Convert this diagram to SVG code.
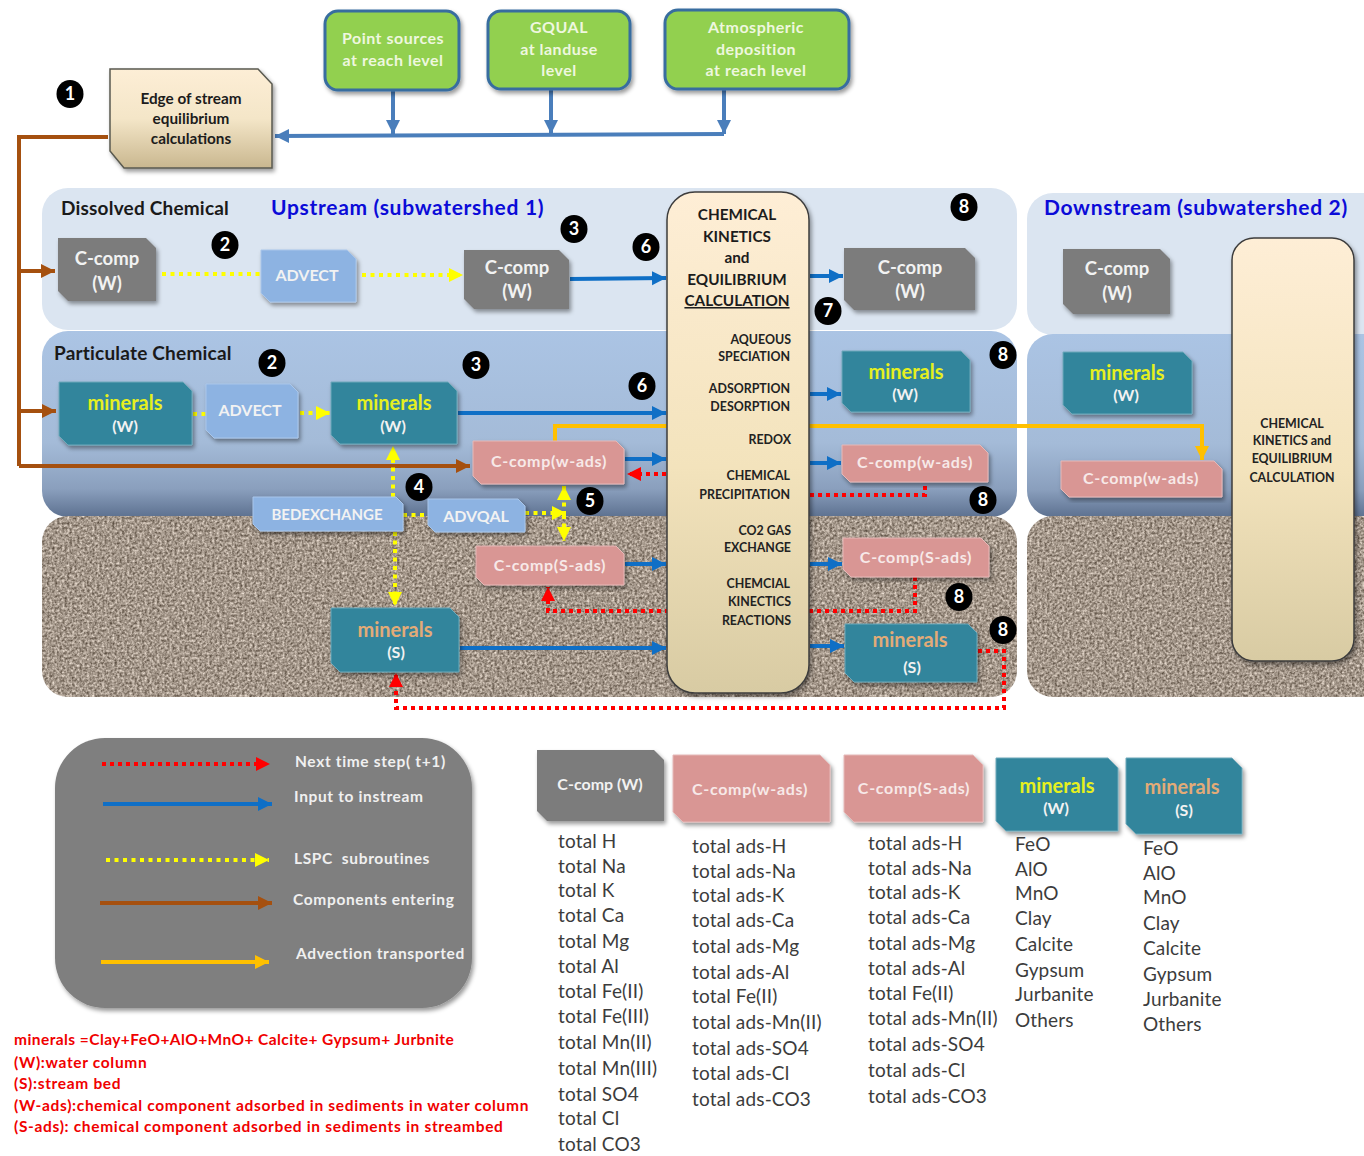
<svg xmlns="http://www.w3.org/2000/svg" width="1364" height="1156" viewBox="0 0 1364 1156">
<style>
text{font-family:Lato,"Open Sans","Liberation Sans",sans-serif}
.c{text-anchor:middle}
.nt{font-size:18.500px;fill:#f2f2f2;font-weight:700}
.ns{font-size:16px;fill:#f2f2f2;font-weight:700}
.pk{font-size:16px;fill:#f7e9e8;font-weight:700;letter-spacing:.7px}
.bx{font-size:15px;fill:#f2f2f2;font-weight:700}
.gt{font-size:16px;fill:#eef7df;font-weight:700;letter-spacing:.5px}
.yl{font-size:20px;fill:#e6f01e;font-weight:700}
.or{font-size:20px;fill:#e3ab77;font-weight:700}
.ct{font-size:15.300px;fill:#1c1c1c;font-weight:700}
.cs{font-size:12.400px;fill:#222;font-weight:700}
.ttl{font-size:21px;fill:#0b0bd8;font-weight:700;letter-spacing:.7px}
.hd{font-size:19px;fill:#1a1a1a;font-weight:700;letter-spacing:.2px}
.lg{font-size:15.500px;fill:#f0f0f0;font-weight:700;letter-spacing:.65px}
.rd{font-size:15.500px;fill:#f00000;font-weight:700;letter-spacing:.67px}
.rd1{letter-spacing:.43px}
.li{font-size:19px;fill:#3c3c3c;letter-spacing:.15px}
.num{font-size:18px;fill:#fff;font-weight:700;text-anchor:middle}
.gray{fill:#7b7b7b}.blue{fill:#8db3e2;stroke:#a9c6ea;stroke-width:1}.teal{fill:#31859c;stroke:#6fa9ba;stroke-width:1}.pink{fill:#d99694;stroke:#e6b9b8;stroke-width:1}
.sh{filter:url(#shadow)}
.ln{fill:none;stroke-width:4}
.b{stroke:#0f6fc6;marker-end:url(#ab)}
.bb{stroke:#4a7ebb;marker-end:url(#abb)}
.br{stroke:#a5500f}
.bra{stroke:#a5500f;marker-end:url(#abr)}
.o{stroke:#ffc000;marker-end:url(#ao)}
.y{stroke:#ffff00;stroke-dasharray:4 4.500;stroke-width:4}
.ya{marker-end:url(#ay)}
.r{stroke:#ff0000;stroke-dasharray:4 4;stroke-width:4}
.ra{marker-end:url(#ar)}
</style>
<defs>
<linearGradient id="gEdge" x1="0" y1="0" x2="0" y2="1"><stop offset="0" stop-color="#fdeed6"/><stop offset=".5" stop-color="#f4e6c8"/><stop offset="1" stop-color="#c9b78f"/></linearGradient>
<linearGradient id="gChem" x1="0" y1="0" x2="0" y2="1"><stop offset="0" stop-color="#feeed6"/><stop offset=".55" stop-color="#f3e3bc"/><stop offset="1" stop-color="#d8cba3"/></linearGradient>
<linearGradient id="gPart" x1="0" y1="0" x2="0" y2="1"><stop offset="0" stop-color="#abc4e4"/><stop offset=".6" stop-color="#a4bbd8"/><stop offset=".85" stop-color="#8a9fbd"/><stop offset="1" stop-color="#5d7190"/></linearGradient>
<filter id="shadow" x="-10%" y="-10%" width="125%" height="125%"><feDropShadow dx="2" dy="3" stdDeviation="2" flood-color="#000" flood-opacity=".4"/></filter>
<filter id="grain" x="0" y="0" width="100%" height="100%" color-interpolation-filters="sRGB">
<feTurbulence type="fractalNoise" baseFrequency=".4" numOctaves="2" seed="4" result="n"/>
<feColorMatrix in="n" type="matrix" values=".8 0 0 0 .24  .8 0 0 0 .19  .8 0 0 0 .14  0 0 0 0 1"/>
<feGaussianBlur stdDeviation=".6"/>
<feComposite in2="SourceGraphic" operator="in"/>
</filter>
<marker id="ab" markerUnits="userSpaceOnUse" markerWidth="16" markerHeight="16" refX="14" refY="7" orient="auto"><path d="M0 0L14 7L0 14Z" fill="#0f6fc6"/></marker>
<marker id="abb" markerUnits="userSpaceOnUse" markerWidth="16" markerHeight="16" refX="14" refY="7" orient="auto"><path d="M0 0L14 7L0 14Z" fill="#4a7ebb"/></marker>
<marker id="abr" markerUnits="userSpaceOnUse" markerWidth="16" markerHeight="16" refX="14" refY="7" orient="auto"><path d="M0 0L14 7L0 14Z" fill="#a5500f"/></marker>
<marker id="ao" markerUnits="userSpaceOnUse" markerWidth="16" markerHeight="16" refX="14" refY="7" orient="auto"><path d="M0 0L14 7L0 14Z" fill="#ffc000"/></marker>
<marker id="ay" markerUnits="userSpaceOnUse" markerWidth="16" markerHeight="16" refX="14" refY="7" orient="auto"><path d="M0 0L14 7L0 14Z" fill="#ffff00"/></marker>
<marker id="ar" markerUnits="userSpaceOnUse" markerWidth="16" markerHeight="16" refX="14" refY="7" orient="auto"><path d="M0 0L14 7L0 14Z" fill="#ff0000"/></marker>
</defs>
<rect width="1364" height="1156" fill="#fff"/>
<g id="panels">
<rect x="42" y="188" width="975" height="142" rx="26" fill="#dbe5f1"/>
<rect x="42" y="331" width="975" height="186" rx="26" fill="url(#gPart)"/>
<rect x="42" y="516" width="975" height="181" rx="26" fill="#a5968a" filter="url(#grain)"/>
<rect x="1027" y="193" width="400" height="142" rx="26" fill="#dbe5f1"/>
<rect x="1027" y="334" width="400" height="183" rx="26" fill="url(#gPart)"/>
<rect x="1027" y="516" width="400" height="181" rx="26" fill="#a5968a" filter="url(#grain)"/>
<text class="hd" x="61" y="215">Dissolved Chemical</text>
<text class="hd" x="54" y="360">Particulate Chemical</text>
<text class="ttl" x="271" y="215">Upstream (subwatershed 1)</text>
<text class="ttl" x="1044" y="215">Downstream (subwatershed 2)</text>
</g>
<g id="connectors">
<path class="ln br" d="M108 137H19V466"/>
<path class="ln bra" d="M19 466H470"/>
<path class="ln bra" d="M19 271H55"/>
<path class="ln bra" d="M19 411H56"/>
<path class="ln bb" d="M724 134L275 136"/>
<path class="ln bb" d="M393 91V134"/>
<path class="ln bb" d="M551 90V134"/>
<path class="ln bb" d="M724 90V134"/>
<path class="ln y" d="M162 274H261"/>
<path class="ln y ya" d="M362 275H463"/>
<path class="ln y" d="M193 414H206"/>
<path class="ln y ya" d="M300 413H330"/>
<path class="ln b" d="M570 279L666 278"/>
<path class="ln b" d="M810 276H843"/>
<path class="ln b" d="M458 413H666"/>
<path class="ln b" d="M810 394H841"/>
<path class="ln b" d="M625 459H666"/>
<path class="ln b" d="M810 463H841"/>
<path class="ln b" d="M625 564H666"/>
<path class="ln b" d="M810 564H842"/>
<path class="ln b" d="M460 648H666"/>
<path class="ln b" d="M810 646H844"/>
<path class="ln o" d="M555 441V426H1202V460"/>
<path class="ln r ra" d="M666 474H627"/>
<path class="ln r" d="M810 495H925V485"/>
<path class="ln r ra" d="M915 577V611H548V587"/>
<path class="ln r ra" d="M978 651H1004V708H396V673"/>
<path class="ln y ya" d="M393 497V446"/>
<path class="ln y ya" d="M395 532V606"/>
<path class="ln y" d="M403 515H428"/>
<path class="ln y ya" d="M525 513H566"/>
<path class="ln y ya" d="M564 515V486"/>
<path class="ln y ya" d="M564 515V541"/>
</g>
<g id="edge-of-stream"><polygon class="sh" points="110,69 258,69 272,84 272,168 124,168 110,151" fill="url(#gEdge)" stroke="#5a5a50" stroke-width="1.5"/><text class="c ct" x="191" y="104">Edge of stream</text><text class="c ct" x="191" y="124">equilibrium</text><text class="c ct" x="191" y="144">calculations</text></g>
<g id="point-sources"><rect class="sh" x="325" y="11" width="134" height="79" rx="13" fill="#92d050" stroke="#376d9f" stroke-width="3"/><text class="c gt" x="393" y="44">Point sources</text><text class="c gt" x="393" y="66">at reach level</text></g>
<g id="gqual"><rect class="sh" x="488" y="11" width="142" height="78" rx="13" fill="#92d050" stroke="#376d9f" stroke-width="3"/><text class="c gt" x="559" y="33">GQUAL</text><text class="c gt" x="559" y="55">at landuse</text><text class="c gt" x="559" y="76">level</text></g>
<g id="atmospheric"><rect class="sh" x="665" y="10" width="184" height="79" rx="13" fill="#92d050" stroke="#376d9f" stroke-width="3"/><text class="c gt" x="756" y="33">Atmospheric</text><text class="c gt" x="756" y="55">deposition</text><text class="c gt" x="756" y="76">at reach level</text></g>
<g id="ccomp-w-1"><polygon class="sh gray" points="58,238 146,238 156,248 156,301 68,301 58,291"/><text class="c nt" x="107" y="265">C-comp</text><text class="c nt" x="107" y="290">(W)</text></g>
<g id="advect-1"><polygon class="sh blue" points="261,250 347,250 356,259 356,302 270,302 261,293"/><text class="c ns" x="307" y="281">ADVECT</text></g>
<g id="ccomp-w-2"><polygon class="sh gray" points="464,250 559,250 569,260 569,309 474,309 464,299"/><text class="c nt" x="517" y="274">C-comp</text><text class="c nt" x="517" y="298">(W)</text></g>
<g id="ccomp-w-3"><polygon class="sh gray" points="844,248 965,248 975,258 975,310 854,310 844,300"/><text class="c nt" x="910" y="274">C-comp</text><text class="c nt" x="910" y="298">(W)</text></g>
<g id="ccomp-w-4"><polygon class="sh gray" points="1063,249 1160,249 1170,259 1170,314 1073,314 1063,304"/><text class="c nt" x="1117" y="275">C-comp</text><text class="c nt" x="1117" y="300">(W)</text></g>
<g id="minerals-w-1"><polygon class="sh teal" points="59,382 183,382 192,391 192,445 68,445 59,436"/><text class="c yl" x="125" y="410">minerals</text><text class="c ns" x="125" y="432">(W)</text></g>
<g id="advect-2"><polygon class="sh blue" points="206,384 290,384 298,392 298,438 214,438 206,430"/><text class="c ns" x="250" y="416">ADVECT</text></g>
<g id="minerals-w-2"><polygon class="sh teal" points="331,382 448,382 457,391 457,444 340,444 331,435"/><text class="c yl" x="394" y="410">minerals</text><text class="c ns" x="393" y="432">(W)</text></g>
<g id="cw-ads-1"><polygon class="sh pink" points="473,441 616,441 624,449 624,484 481,484 473,476"/><text class="c pk" x="549" y="467">C-comp(w-ads)</text></g>
<g id="bedexchange"><polygon class="sh blue" points="253,497 396,497 403,504 403,531 260,531 253,524"/><text class="c bx" x="327" y="520">BEDEXCHANGE</text></g>
<g id="advqal"><polygon class="sh blue" points="428,499 518,499 525,506 525,532 435,532 428,525"/><text class="c ns" x="476" y="522">ADVQAL</text></g>
<g id="cs-ads-1"><polygon class="sh pink" points="476,546 616,546 624,554 624,585 484,585 476,577"/><text class="c pk" x="550" y="571">C-comp(S-ads)</text></g>
<g id="minerals-s-1"><polygon class="sh teal" points="331,608 450,608 459,617 459,672 340,672 331,663"/><text class="c or" x="395" y="637">minerals</text><text class="c ns" x="396" y="658">(S)</text></g>
<g id="minerals-w-3"><polygon class="sh teal" points="842,351 961,351 970,360 970,412 851,412 842,403"/><text class="c yl" x="906" y="379">minerals</text><text class="c ns" x="905" y="400">(W)</text></g>
<g id="cw-ads-2"><polygon class="sh pink" points="842,445 980,445 988,453 988,482 850,482 842,474"/><text class="c pk" x="915" y="468">C-comp(w-ads)</text></g>
<g id="cs-ads-2"><polygon class="sh pink" points="843,538 981,538 989,546 989,577 851,577 843,569"/><text class="c pk" x="916" y="563">C-comp(S-ads)</text></g>
<g id="minerals-s-2"><polygon class="sh teal" points="845,624 968,624 977,633 977,682 854,682 845,673"/><text class="c or" x="910" y="647">minerals</text><text class="c ns" x="912" y="673">(S)</text></g>
<g id="minerals-w-4"><polygon class="sh teal" points="1063,352 1183,352 1192,361 1192,414 1072,414 1063,405"/><text class="c yl" x="1127" y="380">minerals</text><text class="c ns" x="1126" y="401">(W)</text></g>
<g id="cw-ads-3"><polygon class="sh pink" points="1061,461 1214,461 1222,469 1222,497 1069,497 1061,489"/><text class="c pk" x="1141" y="484">C-comp(w-ads)</text></g>
<g id="chem-1"><rect class="sh" x="667" y="192" width="142" height="501" rx="28" fill="url(#gChem)" stroke="#3c3c3c" stroke-width="1.5"/>
<text class="c ct" x="737" y="220">CHEMICAL</text><text class="c ct" x="737" y="242">KINETICS</text><text class="c ct" x="737" y="263">and</text><text class="c ct" x="737" y="285">EQUILIBRIUM</text><text class="c ct" x="737" y="306" text-decoration="underline">CALCULATION</text>
<g text-anchor="end"><text class="cs" x="791" y="344">AQUEOUS</text><text class="cs" x="790" y="361">SPECIATION</text><text class="cs" x="790" y="393">ADSORPTION</text><text class="cs" x="790" y="411">DESORPTION</text><text class="cs" x="791" y="444">REDOX</text><text class="cs" x="790" y="480">CHEMICAL</text><text class="cs" x="790" y="499">PRECIPITATION</text><text class="cs" x="791" y="535">CO2 GAS</text><text class="cs" x="791" y="552">EXCHANGE</text><text class="cs" x="790" y="588">CHEMCIAL</text><text class="cs" x="791" y="606">KINECTICS</text><text class="cs" x="791" y="625">REACTIONS</text></g></g>
<g id="chem-2"><rect class="sh" x="1232" y="238" width="122" height="423" rx="22" fill="url(#gChem)" stroke="#3c3c3c" stroke-width="1.5"/><text class="c cs" x="1292" y="428">CHEMICAL</text><text class="c cs" x="1292" y="445">KINETICS and</text><text class="c cs" x="1292" y="463">EQUILIBRIUM</text><text class="c cs" x="1292" y="482">CALCULATION</text></g>
<g id="markers">
<ellipse cx="70" cy="94" rx="13.500" ry="14"/><text class="num" x="70" y="100">1</text>
<ellipse cx="225" cy="245" rx="13.500" ry="14"/><text class="num" x="225" y="251">2</text>
<ellipse cx="574" cy="229" rx="13.500" ry="14"/><text class="num" x="574" y="235">3</text>
<ellipse cx="646" cy="247" rx="13.500" ry="14"/><text class="num" x="646" y="253">6</text>
<ellipse cx="964" cy="207" rx="13.500" ry="14"/><text class="num" x="964" y="213">8</text>
<ellipse cx="828" cy="311" rx="13.500" ry="14"/><text class="num" x="828" y="317">7</text>
<ellipse cx="1003" cy="355" rx="13.500" ry="14"/><text class="num" x="1003" y="361">8</text>
<ellipse cx="272" cy="363" rx="13.500" ry="14"/><text class="num" x="272" y="369">2</text>
<ellipse cx="476" cy="365" rx="13.500" ry="14"/><text class="num" x="476" y="371">3</text>
<ellipse cx="642" cy="386" rx="13.500" ry="14"/><text class="num" x="642" y="392">6</text>
<ellipse cx="419" cy="487" rx="13.500" ry="14"/><text class="num" x="419" y="493">4</text>
<ellipse cx="590" cy="501" rx="13.500" ry="14"/><text class="num" x="590" y="507">5</text>
<ellipse cx="983" cy="500" rx="13.500" ry="14"/><text class="num" x="983" y="506">8</text>
<ellipse cx="959" cy="597" rx="13.500" ry="14"/><text class="num" x="959" y="603">8</text>
<ellipse cx="1003" cy="630" rx="13.500" ry="14"/><text class="num" x="1003" y="636">8</text>
</g>
<g id="legend">
<rect class="sh" x="55" y="738" width="417" height="270" rx="50" fill="#7f7f7f"/>
<path class="ln r ra" d="M102 764H270"/>
<path class="ln b" d="M103 804H272"/>
<path class="ln y ya" d="M106 860H269"/>
<path class="ln bra" d="M100 903H272"/>
<path class="ln o" d="M101 962H269"/>
<text class="lg" x="295" y="767">Next time step( t+1)</text>
<text class="lg" x="294" y="802">Input to instream</text>
<text class="lg" x="294" y="864" style="white-space:pre">LSPC  subroutines</text>
<text class="lg" x="293" y="905">Components entering</text>
<text class="lg" x="296" y="959">Advection transported</text>
</g>
<g id="notes">
<text class="rd rd1" x="14" y="1045">minerals =Clay+FeO+AlO+MnO+ Calcite+ Gypsum+ Jurbnite</text>
<text class="rd" x="14" y="1068">(W):water column</text>
<text class="rd" x="14" y="1089">(S):stream bed</text>
<text class="rd" x="14" y="1111">(W-ads):chemical component adsorbed in sediments in water column</text>
<text class="rd" x="14" y="1132">(S-ads): chemical component adsorbed in sediments in streambed</text>
</g>
<g id="key-ccomp-w"><polygon class="sh gray" points="537,750 654,750 664,760 664,821 547,821 537,811"/><text class="c ns" x="600" y="790">C-comp (W)</text>
<text class="li" x="558" y="848">total H</text><text class="li" x="558" y="873">total Na</text><text class="li" x="558" y="897">total K</text><text class="li" x="558" y="922">total Ca</text><text class="li" x="558" y="948">total Mg</text><text class="li" x="558" y="973">total Al</text><text class="li" x="558" y="998">total Fe(II)</text><text class="li" x="558" y="1023">total Fe(III)</text><text class="li" x="558" y="1049">total Mn(II)</text><text class="li" x="558" y="1075">total Mn(III)</text><text class="li" x="558" y="1101">total SO4</text><text class="li" x="558" y="1125">total Cl</text><text class="li" x="558" y="1151">total CO3</text></g>
<g id="key-cw-ads"><polygon class="sh pink" points="673,755 820,755 830,765 830,822 683,822 673,812"/><text class="c pk" x="750" y="795">C-comp(w-ads)</text>
<text class="li" x="692" y="853">total ads-H</text><text class="li" x="692" y="878">total ads-Na</text><text class="li" x="692" y="902">total ads-K</text><text class="li" x="692" y="927">total ads-Ca</text><text class="li" x="692" y="953">total ads-Mg</text><text class="li" x="692" y="979">total ads-Al</text><text class="li" x="692" y="1003">total Fe(II)</text><text class="li" x="692" y="1029">total ads-Mn(II)</text><text class="li" x="692" y="1055">total ads-SO4</text><text class="li" x="692" y="1080">total ads-Cl</text><text class="li" x="692" y="1106">total ads-CO3</text></g>
<g id="key-cs-ads"><polygon class="sh pink" points="844,755 973,755 983,765 983,822 854,822 844,812"/><text class="c pk" x="914" y="794">C-comp(S-ads)</text>
<text class="li" x="868" y="850">total ads-H</text><text class="li" x="868" y="875">total ads-Na</text><text class="li" x="868" y="899">total ads-K</text><text class="li" x="868" y="924">total ads-Ca</text><text class="li" x="868" y="950">total ads-Mg</text><text class="li" x="868" y="975">total ads-Al</text><text class="li" x="868" y="1000">total Fe(II)</text><text class="li" x="868" y="1025">total ads-Mn(II)</text><text class="li" x="868" y="1051">total ads-SO4</text><text class="li" x="868" y="1077">total ads-Cl</text><text class="li" x="868" y="1103">total ads-CO3</text></g>
<g id="key-minerals-w"><polygon class="sh teal" points="996,758 1108,758 1118,768 1118,831 1006,831 996,821"/><text class="c yl" x="1057" y="793">minerals</text><text class="c ns" x="1056" y="814">(W)</text>
<text class="li" x="1015" y="851">FeO</text><text class="li" x="1015" y="876">AlO</text><text class="li" x="1015" y="900">MnO</text><text class="li" x="1015" y="925">Clay</text><text class="li" x="1015" y="951">Calcite</text><text class="li" x="1015" y="977">Gypsum</text><text class="li" x="1015" y="1001">Jurbanite</text><text class="li" x="1015" y="1027">Others</text></g>
<g id="key-minerals-s"><polygon class="sh teal" points="1126,758 1232,758 1242,768 1242,834 1136,834 1126,824"/><text class="c or" x="1182" y="794">minerals</text><text class="c ns" x="1184" y="816">(S)</text>
<text class="li" x="1143" y="855">FeO</text><text class="li" x="1143" y="880">AlO</text><text class="li" x="1143" y="904">MnO</text><text class="li" x="1143" y="930">Clay</text><text class="li" x="1143" y="955">Calcite</text><text class="li" x="1143" y="981">Gypsum</text><text class="li" x="1143" y="1006">Jurbanite</text><text class="li" x="1143" y="1031">Others</text></g>
</svg>
